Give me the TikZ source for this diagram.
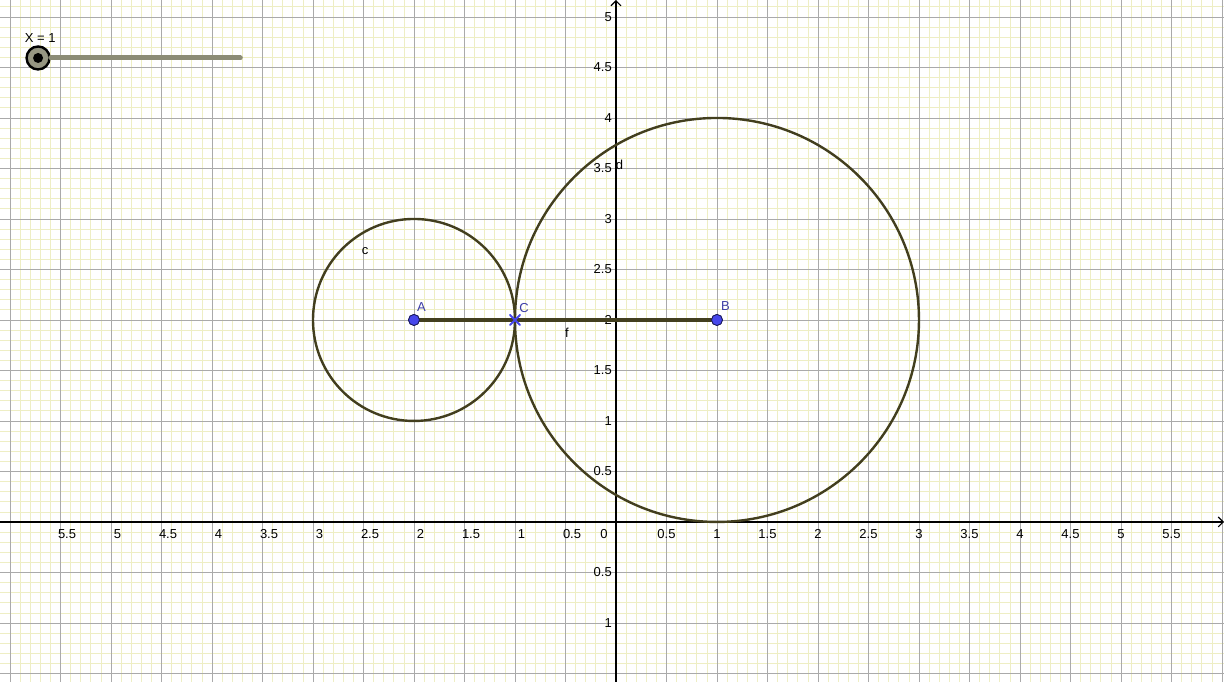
\documentclass[tikz,border=0pt]{standalone}
\usepackage{fontspec}
\setmainfont{Liberation Sans}
\usepackage{xcolor}
\usepackage{tikz}
\usetikzlibrary{calc,positioning,arrows.meta,shapes.misc}

\definecolor{conic}{RGB}{66,62,30}
\definecolor{ptfill}{RGB}{70,70,235}
\definecolor{ptline}{RGB}{25,25,90}
\definecolor{ptlbl}{RGB}{60,60,165}
\definecolor{gridmin}{RGB}{238,238,196}
\definecolor{gridmaj}{RGB}{170,170,170}
\definecolor{slidebar}{RGB}{140,140,118}

\begin{document}
\begin{tikzpicture}[x=101pt, y=101pt, line cap=round,
  lbl/.style={font=\fontsize{13}{15}\selectfont, inner sep=0pt},
  ptlabel/.style={lbl, text=ptlbl},
  objlabel/.style={lbl, text=black},
  ptdot/.style={circle, draw=ptline, fill=ptfill, line width=0.8pt, minimum size=11pt, inner sep=0pt},
  conicline/.style={draw=conic, line width=2.4pt}]
  \def\xmin{-6.099}
  \def\xmax{6.020}
  \def\ymin{-1.584}
  \def\ymax{5.168}

  \useasboundingbox (\xmin,\ymin) rectangle (\xmax,\ymax);

  % grid
  \draw[gridmin, line width=0.7pt] (\xmin,\ymin) grid[step=0.1] (\xmax,\ymax);
  \draw[gridmaj, line width=0.9pt] (\xmin,\ymin) grid[step=0.5] (\xmax,\ymax);

  % axes
  \coordinate (xa) at (\xmin,0);
  \coordinate (xb) at (\xmax,0);
  \coordinate (ya) at (0,\ymin);
  \coordinate (yb) at (0,\ymax);
  \draw[-{Straight Barb[length=5pt]}, line width=1.1pt] (xa) -- (xb);
  \draw[-{Straight Barb[length=5pt]}, line width=1.1pt] (ya) -- (yb);

  \newcommand{\xtick}[3]{% #1=name, #2=x, #3=label text
    \node[lbl, anchor=center] (#1) at (#2,-0.12) {#3};
  }
  \newcommand{\ytick}[3]{% #1=name, #2=y, #3=label text
    \node[lbl, anchor=east] (#1) at (-0.04,#2) {#3};
  }

  \foreach \t [count=\k] in {0.5,1,1.5,2,2.5,3,3.5,4,4.5,5,5.5}{
    \xtick{xp\k}{\t}{\t}
    \xtick{xn\k}{-\t+0.065}{\t}
  }
  \xtick{xo}{-0.12}{0}
  \foreach \t [count=\k] in {0.5,1,1.5,2,2.5,3,3.5,4,4.5,5}{
    \ytick{yp\k}{\t}{\t}
  }
  \ytick{yn1}{-0.5}{0.5}
  \ytick{yn2}{-1}{1}

  % circles c and d
  \coordinate (cA) at (-2,2);
  \coordinate (cB) at (1,2);
  \draw[conicline] (cA) circle[radius=1];
  \draw[conicline] (cB) circle[radius=2];

  % points and segment f
  \node[ptdot] (A) at (cA) {};
  \node[ptdot] (B) at (cB) {};
  \draw[conic, line width=3.2pt] (A) -- (B);
  \node[ptdot] at (cA) {};
  \node[ptdot] at (cB) {};
  \node[cross out, draw=ptfill, line width=2pt, minimum size=8pt, inner sep=0pt] (C) at (-1,2) {};

  \node[ptlabel] (labA) at (-1.925,2.13) {A};
  \node[ptlabel] (labB) at (1.085,2.14) {B};
  \node[ptlabel] (labC) at (-0.91,2.115) {C};
  \node[objlabel] (labc) at (-2.485,2.68) {c};
  \node[objlabel] (labd) at (0.035,3.535) {d};
  \node[objlabel] (labf) at (-0.485,1.875) {f};

  % slider X
  \node[lbl] (sldlbl) at (-5.70,4.79) {X = 1};
  \coordinate (sldend) at (-3.72,4.594);
  \node[circle, draw=black, line width=2.4pt, fill={rgb,255:red,150;green,150;blue,130}, minimum size=23pt, inner sep=0pt] (knob) at (-5.722,4.594) {};
  \draw[slidebar, line width=5pt] (knob) -- (sldend);
  \node[circle, fill=black, minimum size=10pt, inner sep=0pt] (knobc) at (knob) {};
\end{tikzpicture}
\end{document}
